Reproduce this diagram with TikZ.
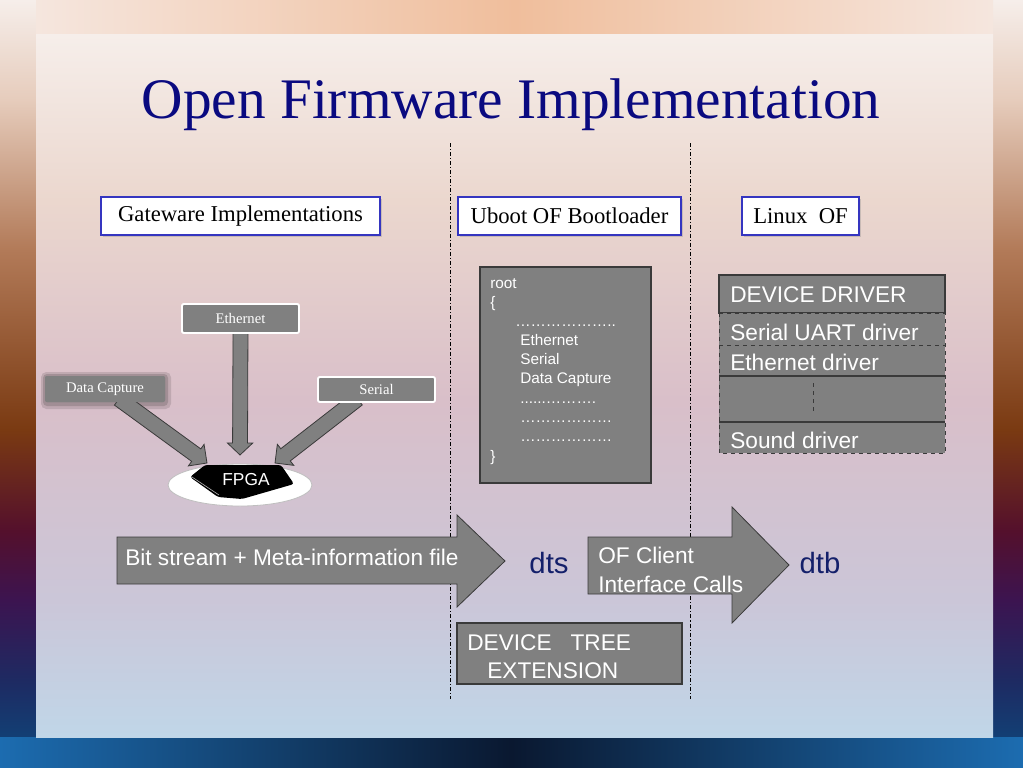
\documentclass[tikz,border=0pt]{standalone}
\usepackage{fontspec}
\setmainfont{Liberation Serif}
\newfontfamily\arialf{Liberation Sans}
\usetikzlibrary{calc,shapes.geometric,shadows}
\definecolor{navy}{HTML}{0A0A80}
\definecolor{boxgray}{HTML}{808080}
\definecolor{edgegray}{HTML}{3A3A3A}
\definecolor{hdrblue}{HTML}{3535C0}
\definecolor{dtsblue}{HTML}{14206A}
\definecolor{sa}{HTML}{F6EEEA}
\definecolor{sb}{HTML}{E6CCBC}
\definecolor{sc}{HTML}{B27A58}
\definecolor{sd}{HTML}{7A3A12}
\definecolor{se}{HTML}{54102C}
\definecolor{sf}{HTML}{3C1450}
\definecolor{sg}{HTML}{1E2A62}
\definecolor{sh}{HTML}{0C4A7E}
\definecolor{bgtopside}{HTML}{F5E6DE}
\definecolor{bgtopmid}{HTML}{F0BE9C}
\definecolor{bgbotside}{HTML}{1C6CB0}
\definecolor{bgbotmid}{HTML}{0A1830}
\definecolor{pa}{HTML}{F6EEEA}
\definecolor{pb}{HTML}{EBD7CE}
\definecolor{pc}{HTML}{D9BFC9}
\definecolor{pd}{HTML}{CBC6D8}
\definecolor{pe}{HTML}{C0D6E8}
\pgfdeclareverticalshading{sidesh}{100bp}{color(0bp)=(sh); color(25bp)=(sh); color(30.7bp)=(sg);
  color(35.9bp)=(sf); color(40.4bp)=(se); color(47bp)=(sd); color(58.7bp)=(sc); color(68.5bp)=(sb);
  color(75bp)=(sa); color(100bp)=(sa)}
\pgfdeclareverticalshading{panelsh}{100bp}{color(0bp)=(pe); color(25bp)=(pe); color(34.8bp)=(pd);
  color(49bp)=(pc); color(63.2bp)=(pb); color(75bp)=(pa); color(100bp)=(pa)}
\newcommand{\blkarrow}[5]{%
  \coordinate (bkc) at ($(#2)!#5!(#1)$);
  \draw[barrow] ($(#1)!#3!90:(#2)$) -- ($(bkc)!#3!90:(#2)$) -- ($(bkc)!#4!90:(#2)$) -- (#2)
     -- ($(bkc)!#4!-90:(#2)$) -- ($(bkc)!#3!-90:(#2)$) -- ($(#1)!#3!-90:(#2)$) -- cycle;}
\begin{document}
\begin{tikzpicture}[x=0.75pt,y=-0.75pt,
  hdr/.style={draw=hdrblue,line width=1.6pt,fill=white,inner sep=0pt,
     font=\fontsize{17}{20}\selectfont,
     drop shadow={shadow xshift=1.2pt,shadow yshift=-1.2pt,opacity=0.3}},
  gbox/.style={fill=boxgray,draw=white,line width=1.3pt,rounded corners=1.5pt,
     text=white,inner sep=0pt,font=\fontsize{11}{13}\selectfont},
  barrow/.style={fill=boxgray,draw=edgegray,line width=0.6pt,line join=miter},
  dbox/.style={fill=boxgray,draw=edgegray,line width=0.8pt},
  divider/.style={draw=black,line width=0.5pt,dash pattern=on 3pt off 1.5pt on 0.8pt off 1.5pt},
  rtxt/.style={anchor=base west,text=white,inner sep=0pt,font=\arialf\fontsize{11.5}{13}\selectfont},
  btxt/.style={anchor=base west,text=white,inner sep=0pt,font=\arialf\fontsize{17}{20}\selectfont},
  dtxt/.style={text=dtsblue,inner sep=0pt,font=\arialf\fontsize{22}{26}\selectfont}]
\useasboundingbox (0,0) rectangle (1023,767);
% ---------- background ----------
\shade[shading=sidesh] (0,0) rectangle (1023,767);
\shade[left color=bgtopside, right color=bgtopside, middle color=bgtopmid] (36,0) rectangle (993,36);
\shade[left color=bgbotside, right color=bgbotside, middle color=bgbotmid] (0,737) rectangle (1023,767);
\shade[shading=panelsh] (36,35) rectangle (993,737);
% ---------- title ----------
\node[anchor=base,text=navy,inner sep=0pt,font=\fontsize{43}{50}\selectfont] (title) at (511,118) {Open Firmware Implementation};
% ---------- dividers ----------
\coordinate (d1t) at (450,143); \coordinate (d1b) at (450,699);
\coordinate (d2t) at (690,143); \coordinate (d2b) at (690,699);
\draw[divider] (d1t) -- (d1b);
\draw[divider] (d2t) -- (d2b);
% ---------- headers ----------
\node[hdr,minimum width=209.25pt,minimum height=28.5pt] (gate) at (240.5,216) {Gateware Implementations};
\node[hdr,minimum width=167.25pt,minimum height=28.5pt] (uboot) at (569.5,216) {Uboot OF Bootloader};
\node[hdr,minimum width=87.75pt,minimum height=28.5pt] (linux) at (800.5,216) {Linux\ \ OF};
% ---------- gateware side ----------
\node[ellipse,fill=white,draw=black!25,line width=0.6pt,minimum width=108pt,minimum height=31.5pt,inner sep=0pt] (fpga) at (240,485) {};
\coordinate (tipE) at (240,455);
\coordinate (tipD) at (207,463);
\coordinate (tipS) at (275,463);
\fill[black,rounded corners=2pt] (190,477) -- (205,465) -- (281,465) -- (294,484) -- (242,499) -- (218,497) -- cycle;
\draw[white!70!black,line width=0.5pt] (192,477) -- (219,495);
\node[text=white,inner sep=0pt,font=\arialf\fontsize{13}{15}\selectfont] (fpgatxt) at (246,480) {FPGA};
\fill[black,opacity=0.12,rounded corners=4pt] (41,372) rectangle (171,409);
\fill[black,opacity=0.15,rounded corners=3pt] (43,374) rectangle (168,406);
\node[gbox,minimum width=87.75pt,minimum height=21.75pt] (eth) at (240.5,318.5) {Ethernet};
\node[gbox,draw=none,minimum width=90pt,minimum height=19.5pt] (dc) at (105,389) {Data Capture};
\node[gbox,minimum width=87.75pt,minimum height=18.75pt] (ser) at (376.5,389.5) {Serial};
\coordinate (startE) at ($(eth.south)+(0,-2)$);
\coordinate (startD) at ($(dc.south)+(14,-4)$);
\coordinate (startS) at ($(ser.south)+(-19,-4)$);
\blkarrow{startE}{tipE}{5.6pt}{9.5pt}{9pt}
\blkarrow{startD}{tipD}{5.8pt}{10pt}{10pt}
\blkarrow{startS}{tipS}{5.8pt}{10pt}{10pt}
\node[gbox,minimum width=87.75pt,minimum height=21.75pt] at (eth) {Ethernet};
\node[gbox,draw=none,minimum width=90pt,minimum height=19.5pt] at (dc) {Data Capture};
\node[gbox,minimum width=87.75pt,minimum height=18.75pt] at (ser) {Serial};
% ---------- uboot side ----------
\node[dbox,minimum width=128.25pt,minimum height=162pt,inner sep=0pt] (root) at (565.5,375) {};
\node[rtxt] at (490,288) {root};
\node[rtxt] at (490,307) {\{};
\node[rtxt] at (515,326) {………………..};
\node[rtxt] at (520,345) {Ethernet};
\node[rtxt] at (520,364) {Serial};
\node[rtxt] at (520,383) {Data Capture};
\node[rtxt] at (520,403) {......……….};
\node[rtxt] at (520,422) {………………};
\node[rtxt] at (520,441) {………………};
\node[rtxt] at (490,461) {\}};
% ---------- linux side ----------
\node[dbox,minimum width=169.5pt,minimum height=28.5pt,inner sep=0pt] (devdrv) at (832,294) {};
\fill[boxgray] (719,313) rectangle (945,453);
\draw[edgegray,line width=0.7pt,dashed] (719,313) rectangle (945,453);
\draw[edgegray,line width=0.7pt,dashed] (719,345) -- (945,345);
\draw[edgegray,line width=0.8pt] (719,376) -- (945,376);
\draw[edgegray,line width=0.8pt] (719,422) -- (945,422);
\draw[edgegray,line width=0.7pt,dashed] (813,383) -- (813,413);
\node[btxt] (t1) at (730,302) {DEVICE DRIVER};
\node[btxt] (t2) at (730,340) {Serial UART driver};
\node[btxt] (t3) at (730,370) {Ethernet driver};
\node[btxt] (t4) at (730,448) {Sound driver};
% ---------- bottom flow ----------
\draw[barrow] (117,537) -- (457,537) -- (457,515) -- (505,561) -- (457,607) -- (457,584) -- (117,584) -- cycle;
\node[btxt] (bits) at (125,565) {Bit stream + Meta-information file};
\node[dtxt] (dts) at (549,563) {dts};
\draw[barrow] (588,537) -- (732,537) -- (732,507) -- (789,565) -- (732,623) -- (732,594) -- (588,594) -- cycle;
\node[btxt] (ofc1) at (598,563) {OF Client};
\node[btxt] (ofc2) at (598,592) {Interface Calls};
\node[dtxt] (dtb) at (820,563) {dtb};
\node[dbox,minimum width=168.75pt,minimum height=45.75pt,inner sep=0pt] (dte) at (569.5,653.5) {};
\node[btxt] at (467,650) {DEVICE\ \ \ TREE};
\node[btxt] at (487,678) {EXTENSION};
\end{tikzpicture}
\end{document}
